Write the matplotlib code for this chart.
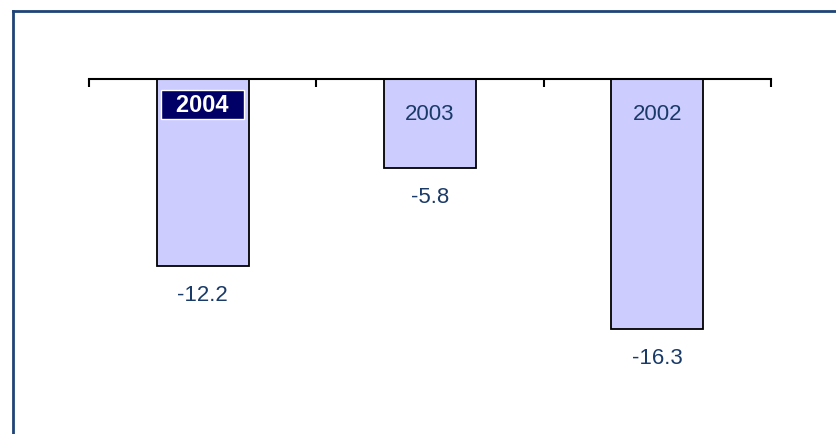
import matplotlib
matplotlib.use("Agg")
import matplotlib.pyplot as plt
from matplotlib.lines import Line2D

# data
years = ["2004", "2003", "2002"]
values = [-12.2, -5.8, -16.3]

plt.rcParams["font.family"] = ["Liberation Sans", "DejaVu Sans"]

text_color = "#1A3A68"
bar_color = "#CCCCFF"

W, H = 837, 435
fig = plt.figure(figsize=(W / 100, H / 100), dpi=100)

# plot area: x 89..771 px, zero line at y=80 px
ax = fig.add_axes([89 / W, 17.3 / H, (771 - 89) / W, (435 - 80 - 17.3) / H])

x = range(len(years))
ax.bar(x, values, width=0.405, color=bar_color, edgecolor="black", linewidth=1.3)

ax.set_xlim(-0.5, 2.5)
ax.set_ylim(-22, 0)

for i, (yr, v) in enumerate(zip(years, values)):
    if i == 0:
        # highlighted current year
        ax.text(i, -1.65, "\u2002" + yr + "\u2002", ha="center", va="center",
                fontsize=17, fontweight="bold", color="white",
                bbox=dict(boxstyle="square,pad=0.14", facecolor="#000066",
                          edgecolor="white", linewidth=1))
    else:
        ax.text(i, -2.25, yr, ha="center", va="center", fontsize=16,
                color=text_color)
    ax.text(i, v - 1.85, f"{v:.1f}", ha="center", va="center",
            fontsize=16, color=text_color)

for side in ["left", "right", "bottom"]:
    ax.spines[side].set_visible(False)
ax.spines["top"].set_linewidth(1.5)
ax.spines["top"].set_color("black")

ax.xaxis.tick_top()
ax.set_xticks([-0.5, 0.5, 1.5, 2.5])
ax.tick_params(axis="x", direction="in", length=6, width=1.5, color="black",
               labeltop=False, labelbottom=False)
ax.set_yticks([])

# outer frame (only top and left edges are inside the image)
frame_color = "#1F4477"
fx = 13.5 / W
fy = 1 - 11.5 / H
fig.add_artist(Line2D([fx, 1.0], [fy, fy], color=frame_color, linewidth=2,
                      transform=fig.transFigure))
fig.add_artist(Line2D([fx, fx], [0.0, fy], color=frame_color, linewidth=2,
                      transform=fig.transFigure))

fig.savefig("out.png", dpi=100)
